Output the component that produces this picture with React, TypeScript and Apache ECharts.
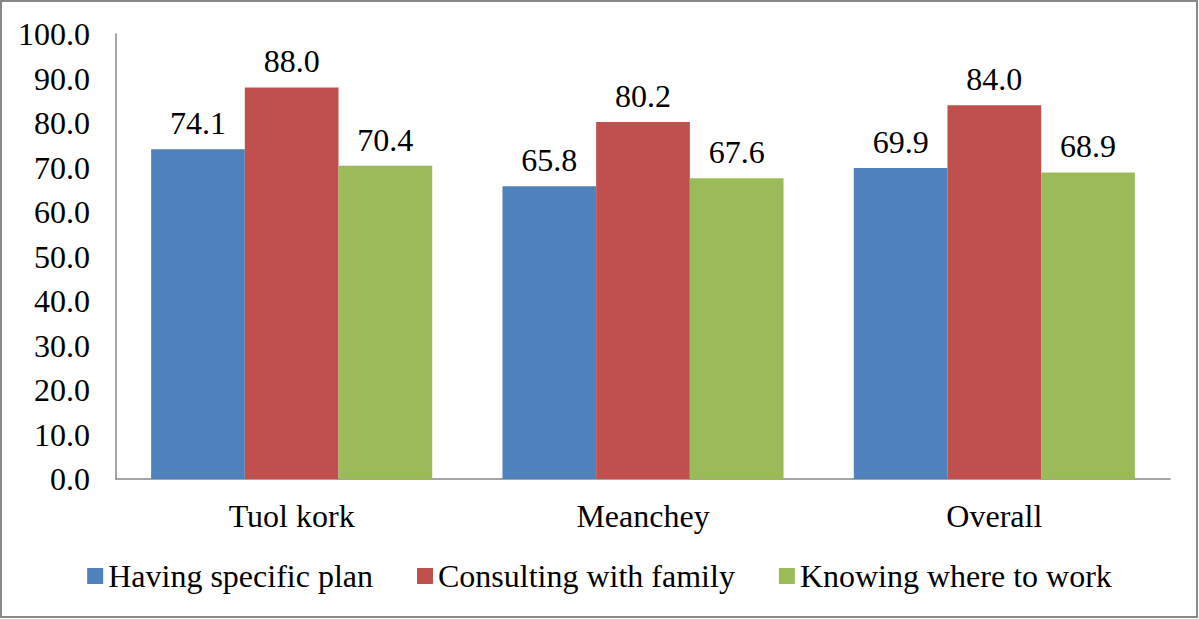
import React, { useEffect, useRef } from "react";
import * as echarts from "echarts";

const categories = ["Tuol kork", "Meanchey", "Overall"];
const seriesNames = ["Having specific plan", "Consulting with family", "Knowing where to work"];
const havingPlan = [74.1, 65.8, 69.9];
const consulting = [88.0, 80.2, 84.0];
const knowing = [70.4, 67.6, 68.9];
const colors = ["#4f81bd", "#c0504d", "#9bbb59"];

export default function App() {
  const ref = useRef<HTMLDivElement>(null);
  useEffect(() => {
    if (!ref.current) return;
    const chart = echarts.init(ref.current, null, { renderer: "svg" });
    const font = "Liberation Serif";
    const fs = 32;
    const values = [havingPlan, consulting, knowing];
    chart.setOption({
      animation: false,
      textStyle: { fontFamily: font, fontSize: fs, color: "#000" },
      grid: { left: 116, right: 29, top: 34, bottom: 140, containLabel: false },
      legend: {
        bottom: 22,
        left: "center",
        itemWidth: 16,
        itemHeight: 16,
        itemGap: 44,
        icon: "rect",
        textStyle: { fontFamily: font, fontSize: fs, color: "#000" },
        data: seriesNames,
      },
      xAxis: {
        type: "category",
        data: categories,
        axisLine: { lineStyle: { color: "#868686", width: 1.5 } },
        axisTick: { show: false },
        axisLabel: { fontFamily: font, fontSize: fs, color: "#000", margin: 21 },
      },
      yAxis: {
        type: "value",
        min: 0,
        max: 100,
        interval: 10,
        axisLine: { show: true, lineStyle: { color: "#868686", width: 1.5 } },
        axisTick: { show: false },
        splitLine: { show: false },
        axisLabel: {
          fontFamily: font,
          fontSize: fs,
          color: "#000",
          margin: 26,
          formatter: (v: number) => v.toFixed(1),
        },
      },
      series: seriesNames.map((name, i) => ({
        name,
        type: "bar",
        data: values[i],
        barGap: "0%",
        barCategoryGap: "20%",
        itemStyle: { color: colors[i] },
        label: {
          show: true,
          position: "top",
          distance: 10,
          fontFamily: font,
          fontSize: fs,
          color: "#000",
          formatter: (p: any) => Number(p.value).toFixed(1),
        },
      })),
      graphic: [
        {
          type: "rect",
          shape: { x: 1, y: 1, width: 1196, height: 616 },
          style: { fill: "none", stroke: "#888", lineWidth: 2 },
          silent: true,
        },
      ],
    });
    return () => chart.dispose();
  }, []);
  return (
    <div
      ref={ref}
      style={{ position: "fixed", left: 0, top: 0, width: 1199, height: 619, background: "#fff" }}
    />
  );
}
